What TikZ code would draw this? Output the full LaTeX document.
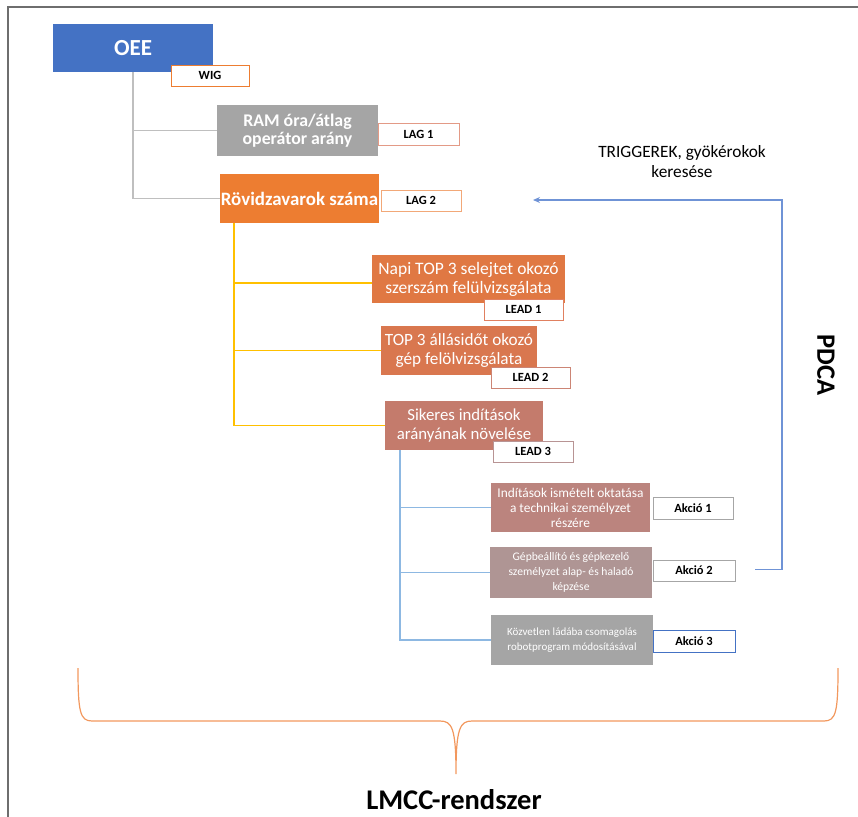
\documentclass[tikz,border=0pt]{standalone}
\usepackage{fontspec}
\setmainfont{Carlito}
\usetikzlibrary{arrows.meta,calc}
\definecolor{cOEE}{HTML}{4472C4}
\definecolor{cGrey}{HTML}{A5A5A5}
\definecolor{cOrange}{HTML}{ED7D31}
\definecolor{cNapi}{HTML}{E07843}
\definecolor{cTop}{HTML}{D9774F}
\definecolor{cSik}{HTML}{C47B6C}
\definecolor{cInd}{HTML}{BB847E}
\definecolor{cGep}{HTML}{AF9594}
\definecolor{cGline}{HTML}{BFBFBF}
\definecolor{cYline}{HTML}{FFC000}
\definecolor{cBline}{HTML}{8DB8E2}
\definecolor{cArrow}{HTML}{6F93D6}
\definecolor{cBrace}{HTML}{F2985E}
\definecolor{cFrame}{HTML}{6E6E6E}
\definecolor{tLagA}{HTML}{E39A86}
\definecolor{tLagB}{HTML}{F2A878}
\definecolor{tLeadA}{HTML}{E08060}
\definecolor{tLeadB}{HTML}{CC8575}
\definecolor{tLeadC}{HTML}{B89494}
\definecolor{tAk}{HTML}{A6A6A6}
\tikzset{
  mainbox/.style={fill=#1, text=white, align=center, inner sep=0pt},
  tagbox/.style={draw=#1, fill=white, line width=0.9pt, inner sep=0pt,
    font=\fontsize{12.5}{14}\selectfont\bfseries, text=black},
  conn/.style={line width=1.6pt, color=#1},
}
\begin{document}
\begin{tikzpicture}[x=1pt,y=-1pt]
\useasboundingbox (0,0) rectangle (858,816);
% frame
\draw[cFrame, line width=1.3pt] (8,820) -- (8,7) -- (862,7);

% main boxes
\node[mainbox=cOEE, minimum width=160pt, minimum height=48pt,
  font=\fontsize{23}{26}\selectfont\bfseries] (oee) at (133,48) {OEE};
\node[mainbox=cGrey, minimum width=161pt, minimum height=51pt,
  font=\fontsize{17.8}{18}\selectfont\bfseries] (ram) at (297.5,130.5) {RAM óra/átlag\\operátor arány};
\node[mainbox=cOrange, minimum width=159pt, minimum height=49pt,
  font=\fontsize{18.9}{20}\selectfont\bfseries] (rov) at (299.5,198.5) {Rövidzavarok száma};
\node[mainbox=cNapi, minimum width=193pt, minimum height=48pt,
  font=\fontsize{17.5}{19}\selectfont] (napi) at (468.5,279) {Napi TOP 3 selejtet okozó\\szerszám felülvizsgálata};
\node[mainbox=cTop, minimum width=156pt, minimum height=49pt,
  font=\fontsize{17.2}{19}\selectfont] (top) at (459,350.5) {TOP 3 állásidőt okozó\\gép felölvizsgálata};
\node[mainbox=cSik, minimum width=158pt, minimum height=49pt,
  font=\fontsize{16.8}{19}\selectfont] (sik) at (464,425.5) {Sikeres indítások\\arányának növelése};
\node[mainbox=cInd, minimum width=159pt, minimum height=49pt,
  font=\fontsize{13.4}{15}\selectfont] (ind) at (570.5,507.5) {Indítások ismételt oktatása\\a technikai személyzet\\részére};
\node[mainbox=cGep, minimum width=162pt, minimum height=51pt,
  font=\fontsize{11.6}{15}\selectfont] (gep) at (571,572.5) {Gépbeállító és gépkezelő\\személyzet alap- és haladó\\képzése};
\node[mainbox=cGrey, minimum width=162pt, minimum height=50pt,
  font=\fontsize{11}{15}\selectfont] (koz) at (572,640) {Közvetlen ládába csomagolás\\robotprogram módosításával};

% tags
\node[tagbox=cOrange, minimum width=78pt, minimum height=21pt] (wig) at (210,75.5) {WIG};
\node[tagbox=tLagA, minimum width=81pt, minimum height=22pt] (lag1) at (418.5,134) {LAG 1};
\node[tagbox=tLagB, minimum width=80pt, minimum height=21pt] (lag2) at (421,200.5) {LAG 2};
\node[tagbox=tLeadA, minimum width=79pt, minimum height=21pt] (lead1) at (523.5,309.5) {LEAD 1};
\node[tagbox=tLeadB, minimum width=79pt, minimum height=21pt] (lead2) at (530.5,377.5) {LEAD 2};
\node[tagbox=tLeadC, minimum width=80pt, minimum height=21pt] (lead3) at (533,451.5) {LEAD 3};
\node[tagbox=tAk, minimum width=80pt, minimum height=22pt] (ak1) at (693,508) {Akció 1};
\node[tagbox=tAk, minimum width=82pt, minimum height=21pt] (ak2) at (694,570.5) {Akció 2};
\node[tagbox=cOEE, minimum width=82pt, minimum height=22pt] (ak3) at (694,641) {Akció 3};

% connectors
\draw[conn=cGline] (oee.south) |- (ram.west);
\draw[conn=cGline] (oee.south) |- (rov.west);
\coordinate (ytrunk) at ($(rov.south west)+(14,0)$);
\draw[conn=cYline] (ytrunk) |- ($(napi.west)+(0,4)$);
\draw[conn=cYline] (ytrunk) |- (top.west);
\draw[conn=cYline] (ytrunk) |- (sik.west);
\coordinate (btrunk) at ($(sik.south west)+(15,0)$);
\draw[conn=cBline] (btrunk) |- (ind.west);
\draw[conn=cBline] (btrunk) |- (gep.west);
\draw[conn=cBline] (btrunk) |- (koz.west);

% PDCA loop
\coordinate (pstart) at ($(ak2.east)+(20,-1)$);
\coordinate (pend) at (533,200);
\draw[conn=cArrow, line width=1.3pt, -{Stealth[length=7pt,width=6pt]}] (pstart) -- (782,569.5) -- (782,200) -- (pend);
\node[font=\fontsize{17.3}{20}\selectfont, align=center] (trig) at (682,162) {TRIGGEREK, gyökérokok\\keresése};
\node[font=\fontsize{26.5}{30}\selectfont\bfseries, rotate=-90] (pdca) at (826,365) {PDCA};

% brace
\draw[cBrace, line width=1.2pt] (78,668) .. controls (78,712) and (80,721) .. (92,721)
  -- (440,721) .. controls (452,721) and (456,728) .. (456,774)
  .. controls (456,728) and (460,721) .. (472,721)
  -- (824,721) .. controls (836,721) and (838,712) .. (838,668);
\node[font=\fontsize{28.5}{32}\selectfont\bfseries] (lmcc) at (454,800) {LMCC-rendszer};
\end{tikzpicture}
\end{document}
